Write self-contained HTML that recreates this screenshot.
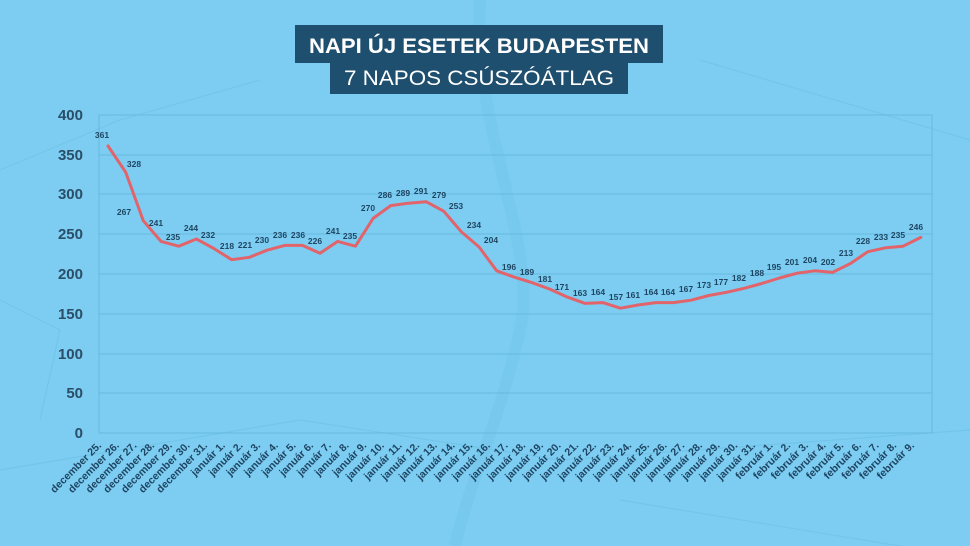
<!DOCTYPE html>
<html><head><meta charset="utf-8"><style>
html,body{margin:0;padding:0;width:970px;height:546px;overflow:hidden;background:#7ccdf1;}
svg{display:block;font-family:"Liberation Sans",sans-serif;}
</style></head><body>
<svg width="970" height="546" viewBox="0 0 970 546" xmlns="http://www.w3.org/2000/svg">
<rect width="970" height="546" fill="#7ccdf1"/>
<g stroke="#72c3e8" stroke-width="1.2" fill="none" opacity="0.8">
<path d="M0 470 L300 420 L560 460 L970 430"/><path d="M0 170 L120 120 L260 80"/>
<path d="M480 0 C470 120 540 250 520 330 C500 420 470 480 455 546" stroke-width="12" stroke="#76c8ec"/>
<path d="M700 60 L970 140"/><path d="M620 500 L900 546"/><path d="M0 300 L60 330 L40 420"/>
</g>
<rect x="295" y="25" width="368" height="38" fill="#1f4f6f"/>
<rect x="330" y="62" width="298" height="32" fill="#1f4f6f"/>
<text x="479" y="53" text-anchor="middle" fill="#fff" font-size="21" font-weight="bold" textLength="340" lengthAdjust="spacingAndGlyphs">NAPI ÚJ ESETEK BUDAPESTEN</text>
<text x="479" y="85" text-anchor="middle" fill="#fff" font-size="21" textLength="270" lengthAdjust="spacingAndGlyphs">7 NAPOS CSÚSZÓÁTLAG</text>
<g stroke="#68b9de" stroke-width="1" fill="none">
<line x1="99" y1="115" x2="932" y2="115"/><line x1="99" y1="155" x2="932" y2="155"/>
<line x1="99" y1="194" x2="932" y2="194"/><line x1="99" y1="234" x2="932" y2="234"/>
<line x1="99" y1="274" x2="932" y2="274"/><line x1="99" y1="314" x2="932" y2="314"/>
<line x1="99" y1="354" x2="932" y2="354"/><line x1="99" y1="393" x2="932" y2="393"/>
<rect x="99" y="115" width="833" height="318"/>
</g>
<g fill="#2a4d68" font-size="15" font-weight="bold" text-anchor="end">
<text x="83" y="120">400</text><text x="83" y="160">350</text><text x="83" y="199">300</text>
<text x="83" y="239">250</text><text x="83" y="279">200</text><text x="83" y="319">150</text>
<text x="83" y="359">100</text><text x="83" y="398">50</text><text x="83" y="438">0</text>
</g>
<polyline fill="none" stroke="#e2636a" stroke-width="3" stroke-linejoin="round" stroke-linecap="round" points="108,146 125.7,172.2 143.3,220.7 161,241.4 178.7,246.2 196.4,239 214,248.6 231.7,259.7 249.4,257.3 267,250.2 284.7,245.4 302.4,245.4 320,253.3 337.7,241.4 355.4,246.2 373.1,218.4 390.7,205.6 408.4,203.2 426.1,201.7 443.7,211.2 461.4,231.9 479.1,247 496.7,270.8 514.4,277.2 532.1,282.7 549.8,289.1 567.4,297.1 585.1,303.4 602.8,302.6 620.4,308.2 638.1,305 655.8,302.6 673.4,302.6 691.1,300.2 708.8,295.5 726.5,292.3 744.1,288.3 761.8,283.5 779.5,278 797.1,273.2 814.8,270.8 832.5,272.4 850.1,263.7 867.8,251.7 885.5,247.8 903.1,246.2 920.8,237.4"/>
<g fill="#1f4563" font-size="8.5" font-weight="bold" text-anchor="middle">
<text x="102" y="138">361</text><text x="134" y="167">328</text><text x="124" y="215">267</text>
<text x="156" y="226">241</text><text x="173" y="240">235</text><text x="191" y="231">244</text>
<text x="208" y="238">232</text><text x="227" y="249">218</text><text x="245" y="248">221</text>
<text x="262" y="243">230</text><text x="280" y="238">236</text><text x="298" y="238">236</text>
<text x="315" y="244">226</text><text x="333" y="234">241</text><text x="350" y="239">235</text>
<text x="368" y="211">270</text><text x="385" y="198">286</text><text x="403" y="196">289</text>
<text x="421" y="194">291</text><text x="439" y="198">279</text><text x="456" y="209">253</text>
<text x="474" y="228">234</text><text x="491" y="243">204</text><text x="509" y="270">196</text>
<text x="527" y="275">189</text><text x="545" y="282">181</text><text x="562" y="290">171</text>
<text x="580" y="296">163</text><text x="598" y="295">164</text><text x="616" y="300">157</text>
<text x="633" y="298">161</text><text x="651" y="295">164</text><text x="668" y="295">164</text>
<text x="686" y="292">167</text><text x="704" y="288">173</text><text x="721" y="285">177</text>
<text x="739" y="281">182</text><text x="757" y="276">188</text><text x="774" y="270">195</text>
<text x="792" y="265">201</text><text x="810" y="263">204</text><text x="828" y="265">202</text>
<text x="846" y="256">213</text><text x="863" y="244">228</text><text x="881" y="240">233</text>
<text x="898" y="238">235</text><text x="916" y="230">246</text>
</g>
<g fill="#1f4563" font-size="10.5" font-weight="bold" text-anchor="end">
<text transform="translate(102,446) rotate(-45)">december 25.</text>
<text transform="translate(119.7,446) rotate(-45)">december 26.</text>
<text transform="translate(137.3,446) rotate(-45)">december 27.</text>
<text transform="translate(155,446) rotate(-45)">december 28.</text>
<text transform="translate(172.7,446) rotate(-45)">december 29.</text>
<text transform="translate(190.4,446) rotate(-45)">december 30.</text>
<text transform="translate(208,446) rotate(-45)">december 31.</text>
<text transform="translate(225.7,446) rotate(-45)">január 1.</text>
<text transform="translate(243.4,446) rotate(-45)">január 2.</text>
<text transform="translate(261,446) rotate(-45)">január 3.</text>
<text transform="translate(278.7,446) rotate(-45)">január 4.</text>
<text transform="translate(296.4,446) rotate(-45)">január 5.</text>
<text transform="translate(314,446) rotate(-45)">január 6.</text>
<text transform="translate(331.7,446) rotate(-45)">január 7.</text>
<text transform="translate(349.4,446) rotate(-45)">január 8.</text>
<text transform="translate(367.1,446) rotate(-45)">január 9.</text>
<text transform="translate(384.7,446) rotate(-45)">január 10.</text>
<text transform="translate(402.4,446) rotate(-45)">január 11.</text>
<text transform="translate(420.1,446) rotate(-45)">január 12.</text>
<text transform="translate(437.7,446) rotate(-45)">január 13.</text>
<text transform="translate(455.4,446) rotate(-45)">január 14.</text>
<text transform="translate(473.1,446) rotate(-45)">január 15.</text>
<text transform="translate(490.7,446) rotate(-45)">január 16.</text>
<text transform="translate(508.4,446) rotate(-45)">január 17.</text>
<text transform="translate(526.1,446) rotate(-45)">január 18.</text>
<text transform="translate(543.8,446) rotate(-45)">január 19.</text>
<text transform="translate(561.4,446) rotate(-45)">január 20.</text>
<text transform="translate(579.1,446) rotate(-45)">január 21.</text>
<text transform="translate(596.8,446) rotate(-45)">január 22.</text>
<text transform="translate(614.4,446) rotate(-45)">január 23.</text>
<text transform="translate(632.1,446) rotate(-45)">január 24.</text>
<text transform="translate(649.8,446) rotate(-45)">január 25.</text>
<text transform="translate(667.4,446) rotate(-45)">január 26.</text>
<text transform="translate(685.1,446) rotate(-45)">január 27.</text>
<text transform="translate(702.8,446) rotate(-45)">január 28.</text>
<text transform="translate(720.5,446) rotate(-45)">január 29.</text>
<text transform="translate(738.1,446) rotate(-45)">január 30.</text>
<text transform="translate(755.8,446) rotate(-45)">január 31.</text>
<text transform="translate(773.5,446) rotate(-45)">február 1.</text>
<text transform="translate(791.1,446) rotate(-45)">február 2.</text>
<text transform="translate(808.8,446) rotate(-45)">február 3.</text>
<text transform="translate(826.5,446) rotate(-45)">február 4.</text>
<text transform="translate(844.1,446) rotate(-45)">február 5.</text>
<text transform="translate(861.8,446) rotate(-45)">február 6.</text>
<text transform="translate(879.5,446) rotate(-45)">február 7.</text>
<text transform="translate(897.1,446) rotate(-45)">február 8.</text>
<text transform="translate(914.8,446) rotate(-45)">február 9.</text>
</g>
</svg>
</body></html>
